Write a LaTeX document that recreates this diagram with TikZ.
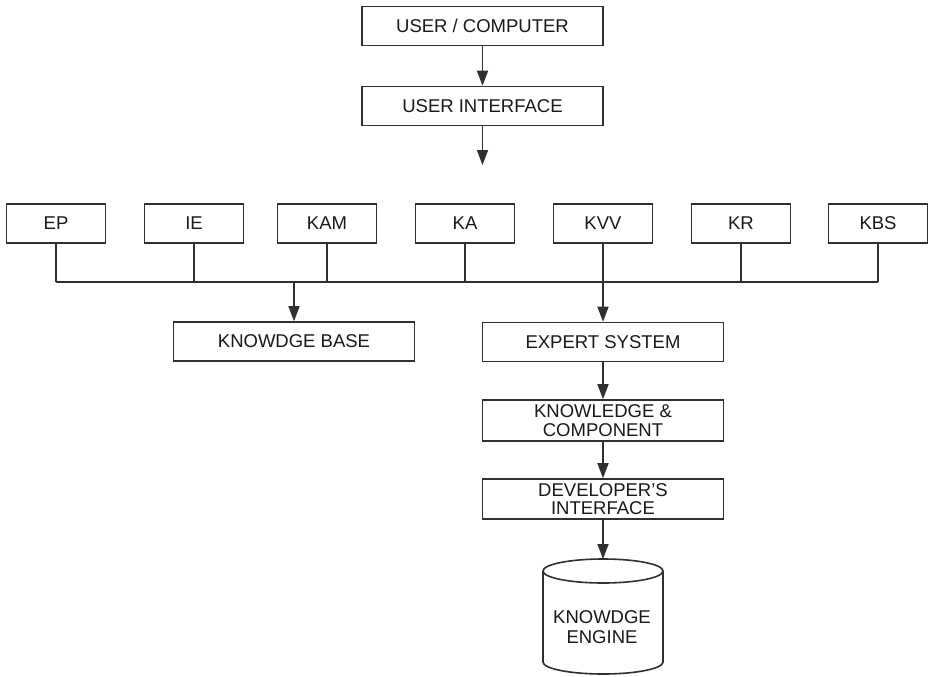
\documentclass[tikz,border=0pt]{standalone}
\usepackage{fontspec}
\setmainfont{Liberation Sans}
\usetikzlibrary{arrows.meta}
\definecolor{ink}{HTML}{303030}
\tikzset{
  box/.style={draw=ink, line width=1.6pt, fill=white, text=black!90,
    font=\fontsize{18.5}{18.5}\selectfont, align=center, inner sep=0pt,
    minimum height=39pt},
  wide/.style={box, minimum width=241pt},
  small/.style={box, minimum width=99pt},
  link/.style={draw=ink, line width=1.6pt},
  flow/.style={link, -{Triangle[width=11pt,length=15pt]}},
}
\begin{document}
\begin{tikzpicture}[x=1pt,y=-1pt]
\useasboundingbox (0,0) rectangle (929,677);

% top chain
\node[wide] (uc) at (482.5,26) {USER / COMPUTER};
\node[wide] (ui) at (482.5,106) {USER INTERFACE};
\coordinate (uiout) at (482.5,165);

% module row
\node[small] (ep)  at (56,223.5)  {EP};
\node[small] (ie)  at (194,223.5) {IE};
\node[small] (kam) at (327,223.5) {KAM};
\node[small] (ka)  at (465,223.5) {KA};
\node[small] (kvv) at (603,223.5) {KVV};
\node[small] (kr)  at (741,223.5) {KR};
\node[small] (kbs) at (878,223.5) {KBS};
\coordinate (busL) at (56,282);
\coordinate (busR) at (878,282);

% lower blocks
\node[wide] (kb) at (294,341.5) {KNOWDGE BASE};
\node[wide] (es) at (603,342) {EXPERT SYSTEM};
\node[wide, minimum height=41pt] (kc) at (603,420.5) {KNOWLEDGE \&\\COMPONENT};
\node[wide, minimum height=40pt] (di) at (603,499) {DEVELOPER'S\\INTERFACE};

% storage cylinder: body, top ellipse, caption
\draw[ink, line width=1.6pt, fill=white]
  (543,571) -- (543,662)
  arc[start angle=180, end angle=360, x radius=60pt, y radius=12pt]
  -- (663,571)
  arc[start angle=0, end angle=180, x radius=60pt, y radius=12pt];
\draw[ink, line width=1.6pt]
  (543,571) arc[start angle=180, end angle=360, x radius=60pt, y radius=12pt];
\coordinate (ketop) at (603,559);
\node[font=\fontsize{18.5}{20}\selectfont, align=center, text=black!90,
  inner sep=0pt] (ke) at (602,627) {KNOWDGE\\ENGINE};

% connectors
\draw[flow] (uc) -- (ui);
\draw[flow] (ui) -- (uiout);
\draw[link] (busL) -- (busR);
\foreach \n in {ep,ie,kam,ka,kr,kbs}
  \draw[link] (\n.south) -- (\n.south |- busL);
\draw[flow] (kb.north |- busL) -- (kb.north);
\draw[flow] (kvv.south) -- (es.north);
\draw[flow] (es) -- (kc);
\draw[flow] (kc) -- (di);
\draw[flow] (di.south) -- (ketop);
\end{tikzpicture}
\end{document}
